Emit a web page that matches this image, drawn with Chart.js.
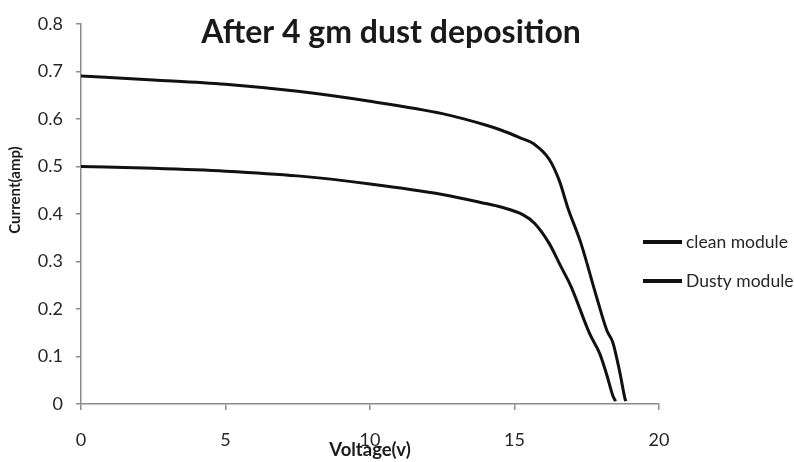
<!DOCTYPE html>
<html>
<head>
<meta charset="utf-8">
<script src="https://cdn.jsdelivr.net/npm/chart.js@4.4.1/dist/chart.umd.min.js"></script>
<style>
  body { margin: 0; background: #fff; }
  #wrap { width: 794px; height: 462px; }
</style>
</head>
<body>
<div id="wrap"><canvas id="myChart" width="794" height="462"></canvas></div>
<script>
const chartTitle = "After 4 gm dust deposition";
const xTitle = "Voltage(v)";
const yTitle = "Current(amp)";
const seriesNames = ["clean module", "Dusty module"];

const cleanVoltage = [0, 2.5, 5, 7.5, 10, 12.5, 14, 14.5, 15.2, 15.65, 16.2, 16.55, 16.85, 17.3, 17.85, 18.2, 18.4, 18.65, 18.82, 18.85];
const cleanCurrent = [0.69, 0.682, 0.673, 0.658, 0.637, 0.611, 0.587, 0.577, 0.56, 0.548, 0.515, 0.47, 0.412, 0.338, 0.223, 0.154, 0.13, 0.065, 0.012, 0.006];

const dustyVoltage = [0, 2.5, 5, 7.5, 10, 12.5, 14, 14.5, 15.3, 15.7, 16.2, 16.6, 16.95, 17.6, 17.95, 18.2, 18.4, 18.5];
const dustyCurrent = [0.5, 0.496, 0.49, 0.48, 0.463, 0.441, 0.422, 0.415, 0.398, 0.38, 0.338, 0.29, 0.248, 0.148, 0.106, 0.06, 0.018, 0.006];

const xTicks = [0, 5, 10, 15, 20];
const yTicks = [0, 0.1, 0.2, 0.3, 0.4, 0.5, 0.6, 0.7, 0.8];

function toPoints(xs, ys) {
  return xs.map((x, i) => ({ x: x, y: ys[i] }));
}

const axisColor = "#8c8c8c";
const textColor = "#262626";
const fontFamily = "Lato, 'Open Sans', sans-serif";

// title, y axis title and legend are drawn by hand to sit where the original has them
const extras = {
  id: "extras",
  afterDraw(chart) {
    const ctx = chart.ctx;
    ctx.save();
    ctx.fillStyle = "#1a1a1a";
    ctx.font = "bold 32px " + fontFamily;
    ctx.textAlign = "center";
    ctx.textBaseline = "alphabetic";
    ctx.fillText(chartTitle, 391, 43);

    ctx.save();
    ctx.translate(15, 190);
    ctx.rotate(-Math.PI / 2);
    ctx.font = "bold 15px " + fontFamily;
    ctx.textBaseline = "middle";
    ctx.fillText(yTitle, 0, 0);
    ctx.restore();

    const rows = [242, 281];
    chart.data.datasets.forEach((ds, i) => {
      ctx.strokeStyle = ds.borderColor;
      ctx.lineWidth = 4;
      ctx.beginPath();
      ctx.moveTo(643, rows[i]);
      ctx.lineTo(682, rows[i]);
      ctx.stroke();
      ctx.fillStyle = textColor;
      ctx.font = "17.5px " + fontFamily;
      ctx.textAlign = "left";
      ctx.textBaseline = "middle";
      ctx.fillText(ds.label, 686, rows[i]);
    });
    ctx.restore();
  }
};

new Chart(document.getElementById("myChart"), {
  type: "line",
  data: {
    datasets: [
      {
        label: seriesNames[0],
        data: toPoints(cleanVoltage, cleanCurrent),
        borderColor: "#111",
        borderWidth: 3,
        pointRadius: 0,
        cubicInterpolationMode: "monotone",
        fill: false
      },
      {
        label: seriesNames[1],
        data: toPoints(dustyVoltage, dustyCurrent),
        borderColor: "#111",
        borderWidth: 3,
        pointRadius: 0,
        cubicInterpolationMode: "monotone",
        fill: false
      }
    ]
  },
  options: {
    responsive: false,
    animation: false,
    layout: { padding: { top: 20, right: 135, left: 0, bottom: 0 } },
    plugins: {
      legend: { display: false },
      title: { display: false },
      tooltip: { enabled: false }
    },
    scales: {
      x: {
        type: "linear",
        min: 0,
        max: 20,
        afterBuildTicks: (s) => { s.ticks = xTicks.map((v) => ({ value: v })); },
        afterFit: (s) => { s.height = 58; },
        grid: { drawOnChartArea: false, tickLength: 6, color: axisColor, lineWidth: 1.5 },
        border: { color: axisColor, width: 1.5 },
        ticks: {
          padding: 19,
          color: textColor,
          font: { family: fontFamily, size: 18 }
        },
        title: {
          display: true,
          text: xTitle,
          color: "#1a1a1a",
          padding: { top: 0, bottom: 1 },
          font: { family: fontFamily, size: 18.5, weight: "bold" }
        }
      },
      y: {
        min: 0,
        max: 0.8,
        afterBuildTicks: (s) => { s.ticks = yTicks.map((v) => ({ value: v })); },
        afterFit: (s) => { s.width = 81; },
        grid: { drawOnChartArea: false, tickLength: 5, color: axisColor, lineWidth: 1.5 },
        border: { color: axisColor, width: 1.5 },
        ticks: {
          padding: 13,
          color: textColor,
          font: { family: fontFamily, size: 18 },
          callback: (v) => (v === 0 ? "0" : v.toFixed(1))
        }
      }
    }
  },
  plugins: [extras]
});
</script>
</body>
</html>
